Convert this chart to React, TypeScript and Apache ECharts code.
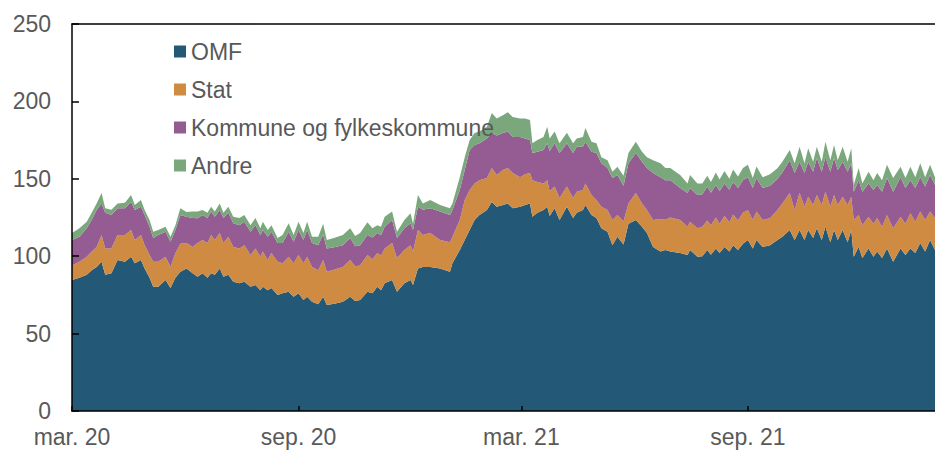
import React, { useEffect, useRef } from "react";
import * as echarts from "echarts";

// Day offsets from 1 March 2020 for each observation
const startDate = "2020-03-01";
const dayOffsets = [0,6,12,16,20,24,27,32,37,43,48,51,56,59,63,66,70,76,80,84,88,93,98,102,106,110,113,116,120,123,127,131,136,140,145,149,153,155,159,162,167,171,176,180,184,188,191,195,200,204,207,214,220,226,230,234,240,244,248,251,254,260,264,270,275,277,281,285,291,299,307,309,315,319,323,327,331,337,341,345,350,354,358,364,368,372,374,378,383,386,388,392,396,402,407,410,415,417,422,426,430,435,439,443,448,452,458,463,467,472,478,482,486,494,500,502,508,512,516,519,523,526,530,534,537,541,545,549,553,556,561,567,573,577,583,587,591,595,598,602,605,609,612,616,619,622,626,630,633,635,639,642,647,651,654,658,662,667,673,677,681,685,689,693,697,701];

const omf = [84.6,86,88,91,93,96.4,88,89,97.5,96.4,99.7,95.5,97.5,92,86,80.3,80.3,84.6,79.5,86,90,92,89,86.8,89,86,89,88,92,86.8,88,83.5,82.6,83.5,80.3,81.4,78,80.3,78,79.5,75,76,77,73.8,76,71.7,73.8,70.6,69,73.8,68.5,69.5,70.6,73.8,71,71.7,77,76,80.3,78,82.6,84.6,77,82.6,84.6,81.4,92,93,93,92,90,95.5,104,110.5,117,123.4,126.6,129.8,135,132,133,134,131,132,133,134,125.5,128,129.8,132,126,131,123.4,132,124.7,128,129.8,133,126.6,124.7,118,115.8,107,112.6,107.5,121,123.4,119,115,106,103,104,103,102,100.7,104,99.7,100,104,101,105,102,106,103,107,104,108,110.5,105,110.5,106,107,110.5,112.6,117,110.5,117,110.5,117,111.8,118,110.5,119,109,117,110.5,117,109,117,99.7,106,98.8,105,99.7,103,98.8,105,96.4,105,100.7,105,102,108.5,103,110.5,104];

const stat = [9.4,10.4,11.7,12,13,17.3,17,16,16.2,17.3,17.3,15,16.2,15,14.7,16.1,16.1,15.1,13.5,16,18,16.5,17,21.7,21.5,22.5,24.7,22.5,23,21.7,24.6,22.5,22.4,23.5,20.4,23.6,21.7,22.7,19.5,22.5,21.4,19.5,22.7,21.7,24.7,23.8,25.9,22.4,22,23.7,21.5,22,22.4,23.7,22.5,22.3,23.7,22,21.7,22.5,22.4,23.9,21.8,21.4,22.4,21.6,25,20.7,22,18.5,19,17.1,19.4,25.8,25.8,23.6,22.4,20.7,22,20.5,22.7,23,22.7,19,20,19.7,23.5,20,17.2,17,16,14,14.2,13,12.9,13.7,13,14,12.9,11.6,14,14,16.4,14,15,13,17.4,15,14.8,17.4,21,19.5,22,21.4,18.3,18.3,18.3,19,19,19,20,19,20,19,20,19,20,19.3,18.4,18.3,17.4,17.5,19.3,21.4,23.8,19.3,23.8,21.5,21.4,21.2,21.5,22.5,22.7,23,22.5,22.5,21.4,24,21.4,23.7,20.6,21.2,20.5,21.3,21.7,20.2,21.6,21.6,20.5,20.3,22.8,20.3,20.3,20.4,18.3,20.7];

const kommune = [16.5,16.2,18.3,20.4,23.8,20.3,23,21.6,17.3,17.3,18,19.3,18.3,19.6,18.3,15.4,17.3,16.1,16.4,15,18.6,17,18.7,16,16.1,16.2,15.1,15,14.8,16.2,15.4,15.3,15,15.3,15.1,15,14,14,15.1,13.8,12.1,13,16.1,13.9,16.3,15,17.3,15.5,16,16.5,15,14.5,14,14.3,13,13,13,14,13,13,14,14.9,13,14,14.3,14,15,16.3,16,18.3,17.6,17.2,19.4,19.4,25.8,24.8,24,25.5,22.6,25.5,23.9,23.5,23.3,26,23,21.3,17.7,19.5,21.6,24,26,28,29.1,28,29.1,29,27.9,27,28,30.4,28,27.2,27.1,25.9,23,26,25.9,27,27.2,30.3,27,25.5,24,20.6,21.8,21.7,21.5,21,22,21,21,21,21,21,21,21,21,21.2,20.6,21.7,20.6,21,20,20,21.2,23.9,20.2,21.7,22.6,21.6,23.9,21.6,22.3,22.6,23.9,22.7,22.6,21.6,21.6,18.3,22.4,21.7,21.5,21.8,21.3,22.7,23.9,23.7,25.5,23,21.2,21.7,22.2,21.6,23.7,21.3];

const andre = [4.5,5.4,4.3,4.6,4.2,6.8,3,3.4,3,3.5,4.5,3.2,4.3,3.2,4.4,4,3.3,3.2,3.1,3,4.4,3,4.1,4.3,3.2,3.3,3.2,3.3,4.2,3.3,4,4.2,4.7,4.3,4.2,4.7,4.3,5.3,4.4,4.2,3.3,5.2,5.5,4.3,5.3,4.5,5.3,4.1,5.5,7,5.5,6,6.7,6.2,6.5,8,8.3,6,5,5.5,6.5,5.4,4,5.4,6.5,4,7.5,4,5.3,4.2,4.4,4.2,8.2,8.3,6.4,7.8,7.5,7.7,12.9,11,11.4,12.5,13,12,13,13,6.3,7.5,8.4,10.7,8,7.5,6.3,6.8,6.3,5.3,6.3,8.8,6.5,6.3,4,5,4.1,5.3,6.5,6.7,7.3,6.5,7,8.3,9,8,8,8.5,6.2,8.5,7.5,7,7,7,8,7.5,8,7,8,7.5,8,8,6.5,7.5,7,7.5,7,7,6.6,6.3,9.7,6.3,8.7,6.4,7.3,6.4,10,7.4,8.4,6.3,9.7,6.4,9.7,4.3,8,5.3,7.6,6.2,7.7,7.3,8.5,8.8,6.8,6.5,8.8,7,9,6,6.5,5];

const seriesNames = ["OMF", "Stat", "Kommune og fylkeskommune", "Andre"];
const seriesColors = ["#235977", "#CF8B41", "#955B93", "#7AA87C"];

const tickDateStrings = ["2020-03-01", "2020-09-01", "2021-03-01", "2021-09-01"];
const tickLabels = ["mar. 20", "sep. 20", "mar. 21", "sep. 21"];

const yTicks = { min: 0, max: 250, interval: 50 };

const DAY = 86400000;
const FONT = "'Liberation Sans', Arial, sans-serif";

export default function App() {
  const ref = useRef<HTMLDivElement | null>(null);

  useEffect(() => {
    if (!ref.current) return;
    const chart = echarts.init(ref.current, undefined, { renderer: "svg" });
    const start = Date.parse(startDate);
    const lastDay = dayOffsets[dayOffsets.length - 1];
    const tickDays = tickDateStrings.map((s) => Math.round((Date.parse(s) - start) / DAY));
    const values = [omf, stat, kommune, andre];

    const series = seriesNames.map((name, k) => ({
      name,
      type: "line",
      stack: "total",
      xAxisIndex: 0,
      showSymbol: false,
      symbol: "none",
      lineStyle: { width: 0 },
      areaStyle: { color: seriesColors[k], opacity: 1 },
      itemStyle: { color: seriesColors[k] },
      data: dayOffsets.map((d, i) => [start + d * DAY, values[k][i]]),
    }));

    chart.setOption({
      animation: false,
      textStyle: { fontFamily: FONT },
      grid: { left: 72, right: 0, top: 24, bottom: 40, containLabel: false },
      legend: {
        orient: "vertical",
        left: 174,
        top: 40,
        padding: 0,
        itemWidth: 12,
        itemHeight: 12,
        itemGap: 15,
        icon: "rect",
        data: seriesNames,
        textStyle: { fontSize: 23, color: "#595959", fontFamily: FONT },
      },
      xAxis: [
        {
          // time axis carrying the data; drawn only as the top frame line
          type: "time",
          position: "top",
          min: start,
          max: start + lastDay * DAY,
          z: 3,
          axisLine: { show: true, onZero: false, lineStyle: { color: "#000", width: 1.5 } },
          axisTick: { show: false },
          axisLabel: { show: false },
          splitLine: { show: false },
        },
        {
          // day-offset axis for the visible ticks and labels
          type: "value",
          position: "bottom",
          min: 0,
          max: lastDay,
          z: 3,
          axisLine: { show: true, onZero: false, lineStyle: { color: "#000", width: 1.5 } },
          axisTick: {
            show: true,
            inside: true,
            length: 5,
            customValues: tickDays,
            lineStyle: { color: "#000", width: 1.5 },
          },
          axisLabel: {
            customValues: tickDays,
            showMinLabel: true,
            fontSize: 23,
            color: "#595959",
            fontFamily: FONT,
            margin: 14,
            formatter: (v: number) => {
              const i = tickDays.findIndex((t) => Math.abs(t - v) < 0.5);
              return i >= 0 ? tickLabels[i] : "";
            },
          },
          splitLine: { show: false },
        },
      ],
      yAxis: {
        type: "value",
        min: yTicks.min,
        max: yTicks.max,
        interval: yTicks.interval,
        z: 3,
        axisLine: { show: true, lineStyle: { color: "#000", width: 1.5 } },
        axisTick: { show: true, inside: true, length: 7, lineStyle: { color: "#000", width: 1.5 } },
        axisLabel: { fontSize: 23, color: "#595959", fontFamily: FONT, margin: 21 },
        splitLine: { show: false },
      },
      series,
    });

    return () => chart.dispose();
  }, []);

  return (
    <div
      ref={ref}
      style={{ position: "absolute", left: 0, top: 0, width: 935, height: 451 }}
    />
  );
}
